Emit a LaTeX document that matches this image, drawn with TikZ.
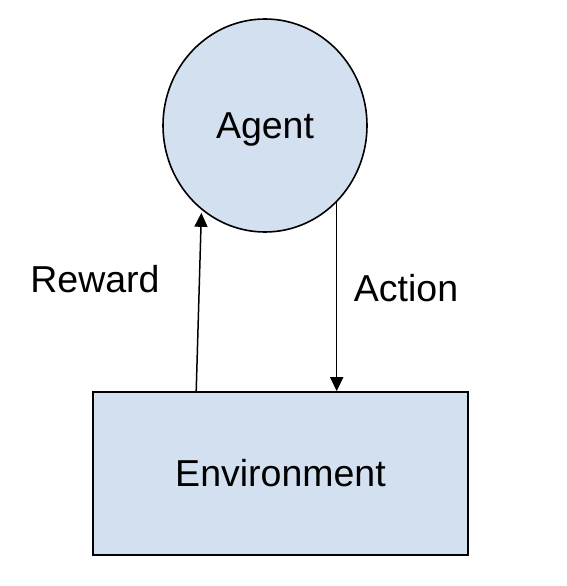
\documentclass[tikz,border=0pt]{standalone}
\usepackage{fontspec}
\setmainfont{Liberation Sans}
\usepackage{tikz}
\usetikzlibrary{positioning,arrows.meta,shapes.geometric}
\usepackage{xcolor}
\definecolor{paleblue}{RGB}{211,224,240}

\begin{document}
\begin{tikzpicture}[x=1pt,y=-1pt,
    blockfill/.style={draw=black,fill=paleblue,line width=1.6pt,inner sep=0pt},
    flow/.style={line width=1.5pt,-{Triangle[length=14pt,width=13pt]}},
    lbl/.style={font=\fontsize{37.5}{44}\selectfont}]
        \useasboundingbox (0,0) rectangle (566,586);
        \node[blockfill,ellipse,minimum width=204pt,minimum height=213pt,lbl,
              text depth=0pt]
          (agent) at (265,125.5) {Agent};
        \node[blockfill,rectangle,minimum width=375pt,minimum height=163pt,lbl]
          (env) at (280.5,473.5) {Environment};
        \draw[flow,shorten >=3pt] ([xshift=104pt]env.north west) -- (agent.233);
        \draw[flow] (agent.313) -- (agent.313 |- env.north);
        \node[lbl] (reward) at (95,279) {Reward};
        \node[lbl] (action) at (406,288) {Action};
      \end{tikzpicture}
\end{document}
